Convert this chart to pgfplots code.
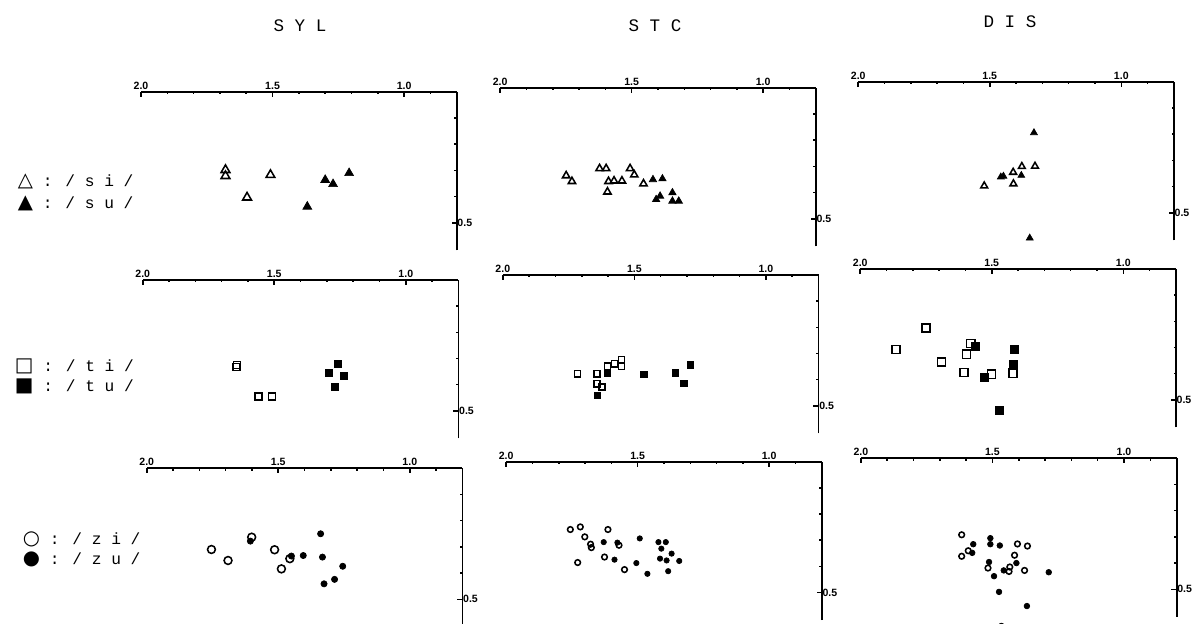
\documentclass[border=0pt]{standalone}
\usepackage{fontspec}
\setmainfont{Liberation Sans}
\newfontfamily\mono{Liberation Mono}
\newfontfamily\sym{DejaVu Sans}
\usepackage{pgfplots}
\pgfplotsset{compat=1.18}

% one pixel of the 1192x624 reference = 0.025cm
\pgfplotsset{
  panel/.style={
    scale only axis, width=7.89cm, height=3.9625cm,
    anchor=north west, clip=false,
    xmin=0.8, xmax=2.0, ymin=0.395, ymax=1.0,
    x dir=reverse,
    axis x line*=top, axis y line*=right,
    axis line style={line width=1.3pt, -},
    xtick={1.0,1.5,2.0}, xticklabels={1.0,1.5,2.0},
    minor xtick={0.9,1.1,1.2,1.3,1.4,1.6,1.7,1.8,1.9},
    ytick={0.5}, yticklabels={0.5},
    minor ytick={0.6,0.7,0.8,0.9},
    tick align=inside,
    major tick length=0.13cm, minor tick length=0.06cm,
    tick style={line width=1.1pt, black},
    /pgf/number format/assume math mode=true,
    ticklabel style={font=\fontsize{7.5}{8}\selectfont\bfseries},
    xticklabel style={yshift=-2pt},
    yticklabel style={xshift=-3pt},
  },
  opn/.style={only marks, mark options={solid, fill=white, line width=1.1pt}},
  ful/.style={only marks, mark options={solid, fill=black, line width=0.5pt}},
}

\begin{document}
\begin{tikzpicture}[x=0.025cm, y=0.025cm]
\useasboundingbox (0,0) rectangle (1192,624);

% column titles
\node[font=\mono\fontsize{12.5}{13}\selectfont] at (300,598) {S Y L};
\node[font=\mono\fontsize{12.5}{13}\selectfont] at (655,598) {S T C};
\node[font=\mono\fontsize{12.5}{13}\selectfont] at (1010,602) {D I S};

% row keys
\node[anchor=west, font=\mono\fontsize{11.5}{12}\selectfont] at (13,443) {{\sym\fontsize{14}{14}\selectfont △} : / s i /};
\node[anchor=west, font=\mono\fontsize{11.5}{12}\selectfont] at (13,421) {{\sym\fontsize{14}{14}\selectfont ▲} : / s u /};
\node[anchor=west, font=\mono\fontsize{11.5}{12}\selectfont] at (10,258) {{\sym\fontsize{14}{14}\selectfont □} : / t i /};
\node[anchor=west, font=\mono\fontsize{11.5}{12}\selectfont] at (10,238) {{\sym\fontsize{14}{14}\selectfont ■} : / t u /};
\node[anchor=west, font=\mono\fontsize{11.5}{12}\selectfont] at (18,85) {{\sym\fontsize{14}{14}\selectfont ○} : / z i /};
\node[anchor=west, font=\mono\fontsize{11.5}{12}\selectfont] at (18,65) {{\sym\fontsize{14}{14}\selectfont ●} : / z u /};

% ---- row 1: /si/ vs /su/
\begin{axis}[panel, at={(3.525cm,13.3cm)}]
\addplot[opn, mark=triangle, mark size=3.6pt] coordinates {
 (1.679,0.702) (1.679,0.679) (1.508,0.683) (1.597,0.597)};
\addplot[ful, mark=triangle*, mark size=3.6pt] coordinates {
 (1.300,0.664) (1.270,0.648) (1.209,0.690) (1.368,0.562)};
\end{axis}

\begin{axis}[panel, at={(12.5cm,13.4cm)}]
\addplot[opn, mark=triangle, mark size=3.0pt] coordinates {
 (1.749,0.665) (1.727,0.643) (1.622,0.692) (1.597,0.692) (1.588,0.643)
 (1.567,0.645) (1.537,0.645) (1.592,0.603) (1.506,0.692) (1.490,0.668)
 (1.455,0.634)};
\addplot[ful, mark=triangle*, mark size=3.0pt] coordinates {
 (1.419,0.650) (1.383,0.653) (1.392,0.587) (1.407,0.574) (1.345,0.600)
 (1.345,0.568) (1.321,0.568)};
\end{axis}

\begin{axis}[panel, at={(21.45cm,13.55cm)}]
\addplot[opn, mark=triangle, mark size=2.8pt] coordinates {
 (1.521,0.603) (1.411,0.655) (1.378,0.677) (1.328,0.678) (1.410,0.611)};
\addplot[ful, mark=triangle*, mark size=2.8pt] coordinates {
 (1.458,0.637) (1.448,0.640) (1.380,0.643) (1.332,0.806) (1.348,0.404)};
\end{axis}

% ---- row 2: /ti/ vs /tu/
\begin{axis}[panel, at={(3.5675cm,8.6cm)}]
\addplot[opn, mark=square, mark size=2.5pt] coordinates {
 (1.641,0.676) (1.644,0.667) (1.559,0.555) (1.508,0.555)};
\addplot[ful, mark=square*, mark size=2.5pt] coordinates {
 (1.257,0.679) (1.292,0.646) (1.237,0.635) (1.270,0.593)};
\end{axis}

\begin{axis}[panel, at={(12.5675cm,8.725cm)}]
\addplot[opn, mark=square, mark size=2.2pt] coordinates {
 (1.716,0.623) (1.642,0.623) (1.602,0.651) (1.575,0.661) (1.549,0.676)
 (1.549,0.651) (1.642,0.585) (1.623,0.572)};
\addplot[ful, mark=square*, mark size=2.2pt] coordinates {
 (1.602,0.626) (1.464,0.619) (1.344,0.626) (1.286,0.657) (1.312,0.585)
 (1.642,0.539)};
\end{axis}

\begin{axis}[panel, at={(21.5cm,8.875cm)}]
\addplot[opn, mark=square, mark size=2.9pt] coordinates {
 (1.750,0.775) (1.864,0.693) (1.691,0.645) (1.580,0.715) (1.596,0.674)
 (1.605,0.605) (1.501,0.598) (1.419,0.602)};
\addplot[ful, mark=square*, mark size=2.9pt] coordinates {
 (1.561,0.706) (1.413,0.693) (1.417,0.636) (1.527,0.586) (1.472,0.459)};
\end{axis}

% ---- row 3: /zi/ vs /zu/
\begin{axis}[panel, at={(3.6675cm,3.8925cm)}]
\addplot[opn, mark=o, mark size=2.8pt] coordinates {
 (1.754,0.690) (1.691,0.648) (1.601,0.737) (1.514,0.689) (1.456,0.655)
 (1.488,0.616)};
\addplot[ful, mark=*, mark size=2.2pt] coordinates {
 (1.606,0.722) (1.450,0.665) (1.405,0.667) (1.339,0.750) (1.332,0.661)
 (1.255,0.626) (1.286,0.576) (1.326,0.559)};
\end{axis}

\begin{axis}[panel, at={(12.65cm,4.0575cm)}]
\addplot[opn, mark=o, mark size=2.0pt] coordinates {
 (1.756,0.741) (1.718,0.751) (1.701,0.713) (1.679,0.685) (1.676,0.672)
 (1.613,0.741) (1.571,0.681) (1.626,0.636) (1.728,0.615) (1.550,0.588)};
\addplot[ful, mark=*, mark size=1.9pt] coordinates {
 (1.629,0.693) (1.577,0.691) (1.492,0.707) (1.421,0.693) (1.393,0.693)
 (1.410,0.668) (1.371,0.649) (1.588,0.626) (1.505,0.613) (1.415,0.630)
 (1.390,0.623) (1.342,0.621) (1.463,0.572) (1.384,0.582)};
\end{axis}

\begin{axis}[panel, at={(21.5175cm,4.1425cm)}]
\addplot[opn, mark=o, mark size=2.0pt] coordinates {
 (1.617,0.708) (1.592,0.647) (1.617,0.626) (1.405,0.673) (1.367,0.665)
 (1.416,0.630) (1.517,0.581) (1.434,0.585) (1.437,0.568) (1.378,0.572)};
\addplot[ful, mark=*, mark size=2.0pt] coordinates {
 (1.573,0.672) (1.577,0.639) (1.508,0.695) (1.508,0.672) (1.472,0.667)
 (1.513,0.604) (1.409,0.600) (1.457,0.572) (1.494,0.550) (1.286,0.565)
 (1.475,0.490) (1.369,0.436) (1.466,0.360)};
\end{axis}
\end{tikzpicture}
\end{document}
